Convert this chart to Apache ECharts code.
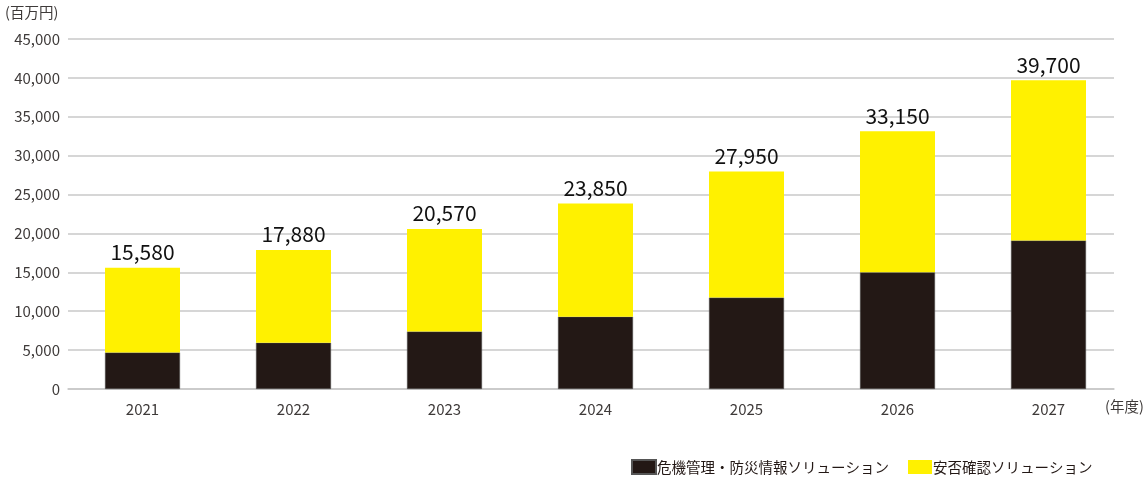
<!DOCTYPE html>
<html><head><meta charset="utf-8">
<script src="https://cdn.jsdelivr.net/npm/echarts@6/dist/echarts.min.js"></script>
<style>html,body{margin:0;padding:0;background:#fff}#c{width:1148px;height:477px}</style>
</head><body><div id="c"></div>
<script>
const categories = ['2021','2022','2023','2024','2025','2026','2027'];
const totals = [15580, 17880, 20570, 23850, 27950, 33150, 39700];
const crisisMgmt = [4700, 5950, 7400, 9300, 11750, 15000, 19100];
const safetyConfirm = [10880, 11930, 13170, 14550, 16200, 18150, 20600];
const yTicks = [0, 5000, 10000, 15000, 20000, 25000, 30000, 35000, 40000, 45000];
const seriesNames = ['危機管理・防災情報ソリューション', '安否確認ソリューション'];
const FONT = '"Noto Sans CJK JP", "Noto Sans", sans-serif';
const TXT = '#3e3a39';

const chart = echarts.init(document.getElementById('c'));
chart.setOption({
  animation: false,
  textStyle: { fontFamily: FONT },
  grid: [
    { left: 67, right: 24, top: 39, bottom: 88, containLabel: false },
    { left: 68, right: 34, top: 39, bottom: 88, containLabel: false }
  ],
  legend: {
    left: 631, top: 459, padding: 0,
    itemWidth: 24, itemHeight: 14, itemGap: 19,
    icon: 'rect',
    textStyle: { fontSize: 14.5, color: '#231815', fontFamily: FONT, padding: [0,0,0,-4] },
    data: seriesNames
  },
  xAxis: [
    { type: 'category', data: categories, gridIndex: 0,
      axisLine: { show: false }, axisTick: { show: false },
      axisLabel: { fontSize: 15, color: TXT, margin: 13 } },
    { type: 'value', gridIndex: 1, min: 0, max: 1,
      axisLine: { show: true, lineStyle: { color: '#c8c8c8', width: 1.5 } },
      axisTick: { show: false }, axisLabel: { show: false }, splitLine: { show: false } }
  ],
  yAxis: [
    { type: 'value', gridIndex: 0, min: 0, max: 45000, interval: 5000,
      axisLine: { show: false }, axisTick: { show: false },
      axisLabel: { show: false }, splitLine: { show: false } },
    { type: 'value', gridIndex: 1, min: 0, max: 45000, interval: 5000,
      axisLine: { show: false }, axisTick: { show: false },
      splitLine: { lineStyle: { color: '#c8c8c8', width: 1.5 } },
      axisLabel: { fontSize: 15, color: TXT, margin: 8,
        formatter: v => yTicks.includes(v) ? v.toLocaleString('en-US') : '' } }
  ],
  graphic: [
    { type: 'text', left: 5, top: 5, style: { text: '(百万円)', fontSize: 14.5, fill: TXT, fontFamily: FONT } },
    { type: 'text', left: 1105, top: 399, style: { text: '(年度)', fontSize: 14.5, fill: TXT, fontFamily: FONT } }
  ],
  series: [
    { name: seriesNames[0], type: 'bar', stack: 's', data: crisisMgmt, barWidth: 75,
      xAxisIndex: 0, yAxisIndex: 0, z: 3,
      itemStyle: { color: '#231815', borderColor: '#555', borderWidth: 0.5 } },
    { name: seriesNames[1], type: 'bar', stack: 's', data: safetyConfirm, barWidth: 75,
      xAxisIndex: 0, yAxisIndex: 0, z: 3,
      itemStyle: { color: '#fff100' },
      label: { show: true, position: 'top', distance: 5, fontSize: 21, color: '#111',
        fontFamily: FONT,
        formatter: p => totals[p.dataIndex].toLocaleString('en-US') } }
  ]
});
</script></body></html>
